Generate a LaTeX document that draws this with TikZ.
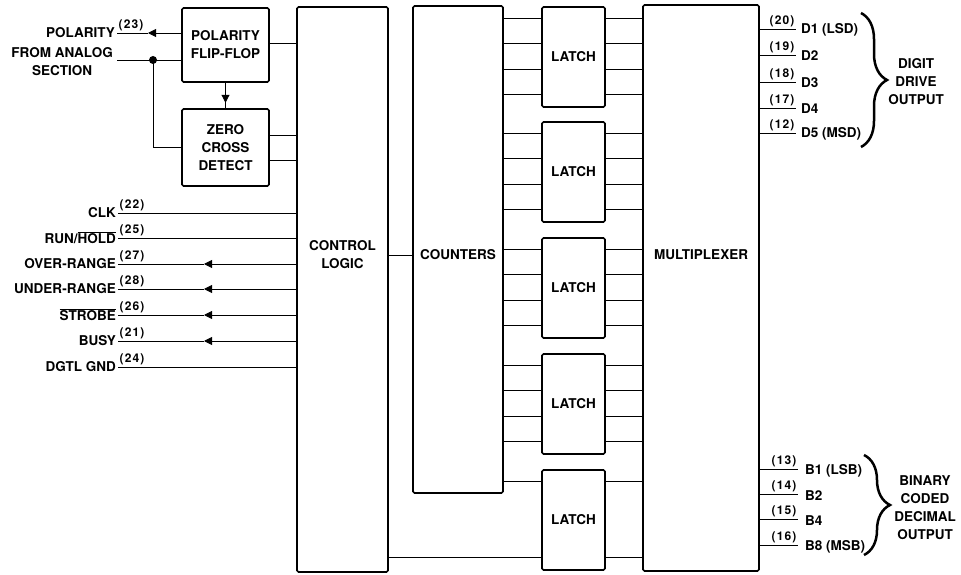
\documentclass[tikz,border=0pt]{standalone}
\usepackage{fontspec}
\setmainfont{TeX Gyre Heros}
\newfontfamily\pinfont[LetterSpace=9]{TeX Gyre Heros}
\usetikzlibrary{arrows.meta,decorations.pathreplacing,calc,positioning}
\newcommand{\ovl}[1]{\leavevmode\vbox{\hrule height 0.9pt\kern1.2pt\hbox{#1}}}

\begin{document}
\begin{tikzpicture}[x=1pt,y=-1pt,
	blk/.style={draw,line width=1.6pt,rounded corners=1.5pt,inner sep=0pt,align=center,
		font=\fontsize{13.5}{18}\selectfont\bfseries},
	wire/.style={line width=0.9pt},
	txt/.style={font=\fontsize{13.5}{18}\selectfont\bfseries,align=center,inner sep=2pt},
	pinno/.style={font=\pinfont\fontsize{12}{13}\selectfont\bfseries,inner sep=1.5pt},
	tip/.style={-{Triangle[length=8pt,width=8pt]}},
	brc/.style={decorate,decoration={brace,amplitude=26pt},line width=2.5pt}]
	\useasboundingbox (0,0) rectangle (961,575);

	% blocks
	\node[blk,minimum width=87pt,minimum height=74pt] (ff) at (225.5,45) {POLARITY\\FLIP-FLOP};
	\node[blk,minimum width=87pt,minimum height=77pt] (zc) at (225.5,147.5) {ZERO\\CROSS\\DETECT};
	\node[blk,minimum width=91pt,minimum height=565pt] (ctl) at (342.5,289.5) {};
	\node[blk,minimum width=90pt,minimum height=487pt] (cnt) at (458,249.5) {};
	\node[blk,minimum width=116pt,minimum height=566pt] (mux) at (701,288) {};
	\foreach \t [count=\i] in {7,122,238,354,470}
		\node[blk,minimum width=63pt,minimum height=100pt] (l\i) at (573.5,\t+50) {LATCH};

	\coordinate (mid) at (0,255);
	\node[txt] (ctltxt) at (ctl.center |- mid) {CONTROL\\LOGIC};
	\node[txt] (cnttxt) at (cnt.center |- mid) {COUNTERS};
	\node[txt] (muxtxt) at (mux.center |- mid) {MULTIPLEXER};
	\draw[wire] (ctl.east |- mid) -- (cnt.west |- mid);

	% polarity and analog input
	\coordinate (pol) at (117,33);
	\coordinate (pola) at (148,33);
	\draw[wire,tip] (ff.west |- pol) -- (pola);
	\draw[wire] (pola) -- (pol);
	\node[txt,anchor=east] (poltxt) at (pol) {POLARITY};
	\node[pinno,anchor=south west] (polno) at (pol) {(23)};
	\coordinate (ana) at (117,60);
	\coordinate (jn) at (153,60);
	\draw[wire] (ana) -- (ana -| ff.west);
	\fill (jn) circle (4);
	\draw[wire] (jn) |- (zc.west);
	\node[txt,anchor=east,inner sep=4pt] (anatxt) at ($(ana)+(0,2)$) {FROM ANALOG\\SECTION};
	\coordinate (ffzc) at ($(ff.south)+(0,20)$);
	\draw[wire] (ff.south) -- (zc.north);
	\draw[wire,tip] (ff.south) -- (ffzc);
	\draw[wire] ([yshift=2pt]ff.east) -- ([yshift=2pt]ff.east -| ctl.west);
	\draw[wire] ([yshift=12.5pt]zc.east) -- ([yshift=12.5pt]zc.east -| ctl.west);
	\draw[wire] ([yshift=-12.5pt]zc.east) -- ([yshift=-12.5pt]zc.east -| ctl.west);

	% control pins
	\foreach \y/\name/\pin/\arr [count=\i] in {213/{CLK}/22/0, 238/{RUN/\ovl{HOLD}}/25/0,
			264/{OVER-RANGE}/27/1, 289/{UNDER-RANGE}/28/1, 315/{\ovl{STROBE}}/26/1,
			341/{BUSY}/21/1, 367/{DGTL GND}/24/0} {
		\coordinate (s\i) at (118,\y);
		\coordinate (a\i) at (204,\y);
		\node[txt,anchor=east] (st\i) at (s\i) {\name};
		\node[pinno,anchor=south west] (sn\i) at (s\i) {(\pin)};
		\ifnum\arr=1
			\draw[wire,tip] (s\i -| ctl.west) -- (a\i);
			\draw[wire] (a\i) -- (s\i);
		\else
			\draw[wire] (s\i -| ctl.west) -- (s\i);
		\fi
	}

	% latch buses
	\foreach \i in {1,...,4}
		\foreach \o [count=\j] in {12,37,63,88} {
			\coordinate (p\i\j) at ($(l\i.north west)+(0,\o)$);
			\draw[wire] (p\i\j -| cnt.east) -- (p\i\j);
			\draw[wire] (p\i\j -| l\i.east) -- (p\i\j -| mux.west);
		}
	\coordinate (p51) at ($(l5.north west)+(0,12)$);
	\coordinate (p54) at ($(l5.north west)+(0,88)$);
	\draw[wire] (p51 -| cnt.east) -- (p51);
	\draw[wire] (p54 -| ctl.east) -- (p54);
	\draw[wire] (p51 -| l5.east) -- (p51 -| mux.west);
	\draw[wire] (p54 -| l5.east) -- (p54 -| mux.west);

	% digit drive outputs
	\foreach \y/\pin/\name [count=\i] in {29/20/{D1 (LSD)}, 55/19/D2, 82/18/D3,
			108/17/D4, 133/12/{D5 (MSD)}} {
		\coordinate (d\i) at (796,\y);
		\draw[wire] (d\i -| mux.east) -- (d\i);
		\node[pinno,anchor=south east] (dn\i) at (d\i) {(\pin)};
		\node[txt,anchor=west,xshift=3pt,yshift=-1pt] (dt\i) at (d\i) {\name};
	}
	\draw[brc] (861,13) -- (861,147);
	\node[txt] (dgt) at (916,82) {DIGIT\\DRIVE\\OUTPUT};

	% bcd outputs
	\foreach \y/\pin/\name [count=\i] in {469/13/{B1 (LSB)}, 494/14/B2, 519/15/B4,
			545/16/{B8 (MSB)}} {
		\coordinate (b\i) at (798,\y);
		\draw[wire] (b\i -| mux.east) -- (b\i);
		\node[pinno,anchor=south east] (bn\i) at (b\i) {(\pin)};
		\node[txt,anchor=west,xshift=5pt,yshift=-2pt] (bt\i) at (b\i) {\name};
	}
	\draw[brc] (864,455) -- (864,555);
	\node[txt] (bcd) at (925,508) {BINARY\\CODED\\DECIMAL\\OUTPUT};
\end{tikzpicture}
\end{document}
